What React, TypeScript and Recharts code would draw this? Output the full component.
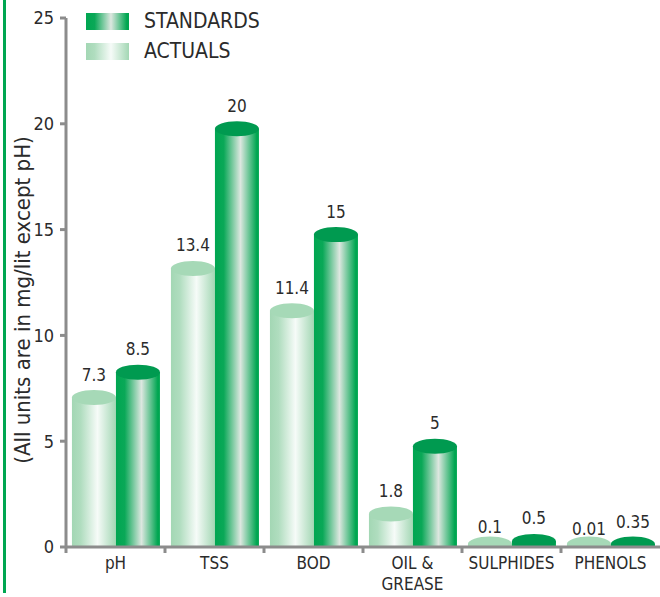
import React from 'react';
import { BarChart, Bar, XAxis, YAxis, LabelList } from 'recharts';

const categories = ['pH', 'TSS', 'BOD', 'OIL &\nGREASE', 'SULPHIDES', 'PHENOLS'];
const actuals = [7.3, 13.4, 11.4, 1.8, 0.1, 0.01];
const standards = [8.5, 20, 15, 5, 0.5, 0.35];
const yTicks = [0, 5, 10, 15, 20, 25];

const data = categories.map((name, i) => ({
  name,
  actual: actuals[i],
  standard: standards[i],
}));

const FONT = "'Liberation Sans Narrow', 'DejaVu Sans Condensed', Roboto, sans-serif";
const AXIS = '#8c8c8c';
const TEXT = '#2b2b2b';
const GREEN = '#00a651';

// cylinder: gradient body plus an elliptical cap, clipped at the baseline
const makeCylinder = (gradId: string, capColor: string) => (props: any) => {
  const { x, y, width, height, index } = props;
  const base = y + height;
  const ry = 7.5;
  const cy = Math.min(y + 5, base - 3);
  const clipId = `clip-${gradId}-${index}`;
  return (
    <g>
      <clipPath id={clipId}>
        <rect x={x - 1} y={0} width={width + 2} height={base} />
      </clipPath>
      <g clipPath={`url(#${clipId})`}>
        <rect x={x} y={cy} width={width} height={base - cy} fill={`url(#${gradId})`} />
        <ellipse cx={x + width / 2} cy={cy} rx={width / 2} ry={ry} fill={capColor} />
      </g>
    </g>
  );
};

const StandardShape = makeCylinder('gradStd', '#009a50');
const ActualShape = makeCylinder('gradAct', '#a6d9b7');

const CategoryTick = ({ x, y, payload }: any) => {
  const half = 594 / categories.length / 2;
  const lines = String(payload.value).split('\n');
  return (
    <g>
      <line x1={x - half} y1={y - 8} x2={x - half} y2={y - 2} stroke={AXIS} strokeWidth={3} />
      <text x={x} y={y + 14} textAnchor="middle" fill={TEXT} fontSize={17} fontFamily={FONT}>
        {lines.map((l, i) => (
          <tspan key={i} x={x} dy={i === 0 ? 0 : 21}>
            {l}
          </tspan>
        ))}
      </text>
    </g>
  );
};

const legendItems = [
  { label: 'STANDARDS', bg: 'linear-gradient(to right, #00a651 0%, #0aa857 20%, #dde7e0 58%, #00a651 95%)' },
  { label: 'ACTUALS', bg: 'linear-gradient(to right, #a3d7b4 0%, #b0ddbf 20%, #f6fbf8 58%, #a3d7b4 100%)' },
];

const LegendBox = () => (
  <div style={{ position: 'absolute', left: 86, top: 6, fontFamily: FONT }}>
    {legendItems.map((it) => (
      <div key={it.label} style={{ display: 'flex', alignItems: 'center', height: 30 }}>
        <div style={{ width: 43, height: 17, background: it.bg, marginRight: 15 }} />
        <span style={{ fontSize: 21, color: TEXT }}>{it.label}</span>
      </div>
    ))}
  </div>
);

export default function App() {
  return (
    <div style={{ position: 'absolute', left: 0, top: 0, width: 660, height: 597, background: '#fff', fontFamily: FONT }}>
      <BarChart
        width={660}
        height={597}
        data={data}
        margin={{ top: 18, right: 0, bottom: 0, left: 0 }}
        barGap={0}
        barCategoryGap="6%"
      >
        <defs>
          <linearGradient id="gradStd" x1="0" y1="0" x2="1" y2="0">
            <stop offset="0%" stopColor="#00a651" />
            <stop offset="20%" stopColor="#0aa857" />
            <stop offset="58%" stopColor="#dde7e0" />
            <stop offset="95%" stopColor="#00a651" />
          </linearGradient>
          <linearGradient id="gradAct" x1="0" y1="0" x2="1" y2="0">
            <stop offset="0%" stopColor="#a3d7b4" />
            <stop offset="20%" stopColor="#b0ddbf" />
            <stop offset="58%" stopColor="#f6fbf8" />
            <stop offset="100%" stopColor="#a3d7b4" />
          </linearGradient>
        </defs>
        <XAxis
          dataKey="name"
          interval={0}
          height={50}
          axisLine={{ stroke: AXIS, strokeWidth: 3 }}
          tickLine={false}
          tick={<CategoryTick />}
        />
        <YAxis
          width={66}
          domain={[0, 25]}
          ticks={yTicks}
          interval={0}
          axisLine={{ stroke: AXIS, strokeWidth: 3 }}
          tickLine={{ stroke: AXIS, strokeWidth: 3 }}
          tickSize={6}
          tickMargin={6}
          tick={{ fill: TEXT, fontSize: 18, fontFamily: FONT }}
        />
        <Bar dataKey="actual" fill="#a6d9b7" shape={ActualShape} isAnimationActive={false}>
          <LabelList dataKey="actual" position="top" offset={12} fill={TEXT} fontSize={17} fontFamily={FONT} />
        </Bar>
        <Bar dataKey="standard" fill={GREEN} shape={StandardShape} isAnimationActive={false}>
          <LabelList dataKey="standard" position="top" offset={12} fill={TEXT} fontSize={17} fontFamily={FONT} />
        </Bar>
      </BarChart>
      <LegendBox />
      <div style={{ position: 'absolute', left: 3, top: 0, width: 2.5, height: 593, background: GREEN }} />
      <svg style={{ position: 'absolute', left: 0, top: 0 }} width={40} height={597}>
        <text
          transform="translate(30, 300) rotate(-90)"
          textAnchor="middle"
          fontSize={22}
          fill={TEXT}
          fontFamily={FONT}
        >
          (All units are in mg/lit except pH)
        </text>
      </svg>
    </div>
  );
}
